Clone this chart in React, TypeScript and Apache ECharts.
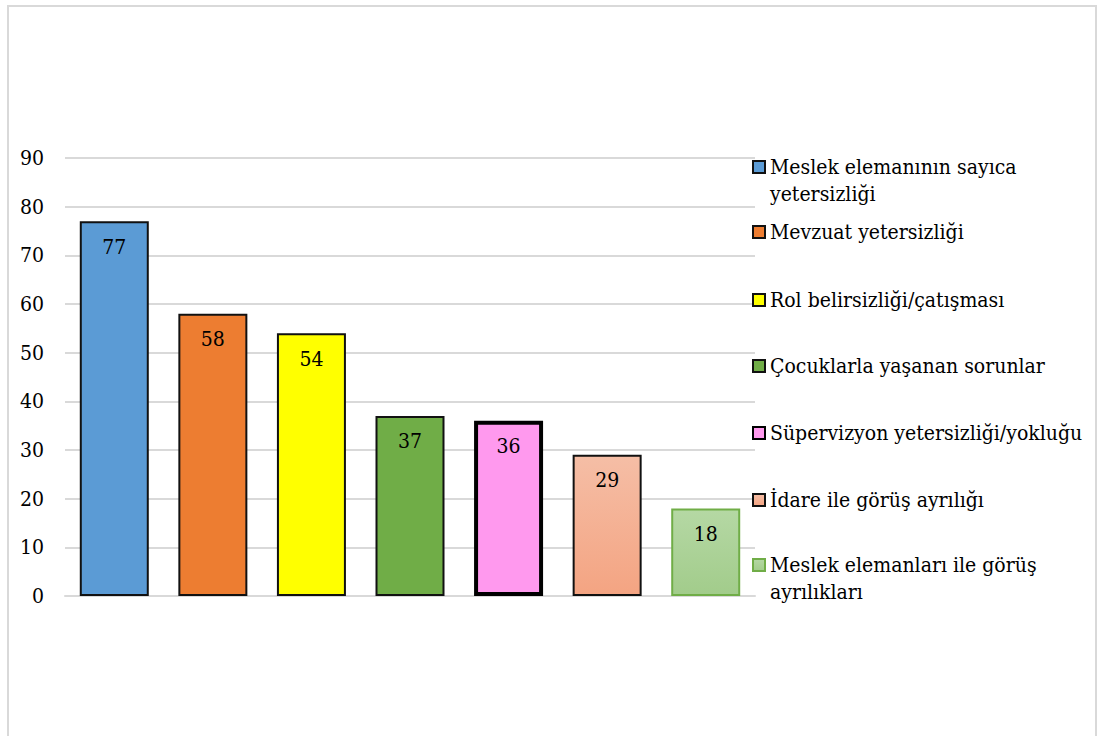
import React, { useEffect, useRef } from "react";
import * as echarts from "echarts";

const categories = [
  "Meslek elemanının sayıca yetersizliği",
  "Mevzuat yetersizliği",
  "Rol belirsizliği/çatışması",
  "Çocuklarla yaşanan sorunlar",
  "Süpervizyon yetersizliği/yokluğu",
  "İdare ile görüş ayrılığı",
  "Meslek elemanları ile görüş ayrılıkları",
];
const legendLabels = [
  "Meslek elemanının sayıca\nyetersizliği",
  "Mevzuat yetersizliği",
  "Rol belirsizliği/çatışması",
  "Çocuklarla yaşanan sorunlar",
  "Süpervizyon yetersizliği/yokluğu",
  "İdare ile görüş ayrılığı",
  "Meslek elemanları ile görüş\nayrılıkları",
];
const values = [77, 58, 54, 37, 36, 29, 18];

const FONT = "'DejaVu Serif Condensed', 'DejaVu Serif', serif";

export default function App() {
  const ref = useRef<HTMLDivElement>(null);
  useEffect(() => {
    if (!ref.current) return;
    const chart = echarts.init(ref.current, undefined, { renderer: "svg" });
    const fills: any[] = [
      "#5B9BD5",
      "#ED7D31",
      "#FFFF00",
      "#70AD47",
      "#FF99EE",
      new echarts.graphic.LinearGradient(0, 0, 0, 1, [
        { offset: 0, color: "#F5BEA6" },
        { offset: 1, color: "#F4A482" },
      ]),
      new echarts.graphic.LinearGradient(0, 0, 0, 1, [
        { offset: 0, color: "#B5D8A4" },
        { offset: 1, color: "#A2CC8B" },
      ]),
    ];
    const borders = ["#111", "#111", "#111", "#111", "#000", "#111", "#70AD47"];
    const borderWidths = [2, 2, 2, 2, 4, 2, 2];
    const legendCenters = [167, 232, 300, 366, 433, 500, 565];
    const LH = 27;

    const series = categories.map((name, i) => ({
      type: "bar",
      name,
      stack: "all",
      barWidth: 69,
      data: values.map((v, j) => (j === i ? v : "-")),
      itemStyle: {
        color: fills[i],
        borderColor: borders[i],
        borderWidth: borderWidths[i],
      },
      label: {
        show: true,
        position: "insideTop",
        distance: 15,
        color: "#000",
        fontFamily: FONT,
        fontSize: 21,
      },
    }));

    const legends = categories.map((name, i) => {
      const multi = legendLabels[i].includes("\n");
      return {
        data: [name],
        orient: "vertical",
        left: 752,
        top: legendCenters[i] - (multi ? LH * 1.5 : LH / 2),
        padding: 0,
        icon: "rect",
        itemWidth: 12,
        itemHeight: 12,
        selectedMode: false,
        formatter: () => (multi ? "\n" + legendLabels[i] : legendLabels[i]),
        textStyle: {
          fontFamily: FONT,
          fontSize: 21,
          lineHeight: LH,
          color: "#000",
        },
      };
    });

    chart.setOption({
      animation: false,
      backgroundColor: "#fff",
      textStyle: { fontFamily: FONT },
      graphic: [
        {
          type: "rect",
          shape: { x: 8, y: 6, width: 1088, height: 740 },
          style: { fill: "none", stroke: "#d9d9d9", lineWidth: 2 },
          silent: true,
        },
      ],
      grid: { left: 65, top: 158, width: 690, height: 438 },
      legend: legends,
      xAxis: {
        type: "category",
        data: categories,
        axisLabel: { show: false },
        axisTick: { show: false },
        axisLine: { lineStyle: { color: "#d9d9d9", width: 2 } },
      },
      yAxis: {
        type: "value",
        min: 0,
        max: 90,
        interval: 10,
        axisLine: { show: false },
        axisTick: { show: false },
        axisLabel: {
          margin: 21,
          color: "#000",
          fontFamily: FONT,
          fontSize: 21,
        },
        splitLine: { lineStyle: { color: "#d9d9d9", width: 2 } },
      },
      series,
    });
    return () => chart.dispose();
  }, []);
  return (
    <div
      ref={ref}
      style={{ position: "absolute", left: 0, top: 0, width: 1097, height: 736 }}
    />
  );
}
